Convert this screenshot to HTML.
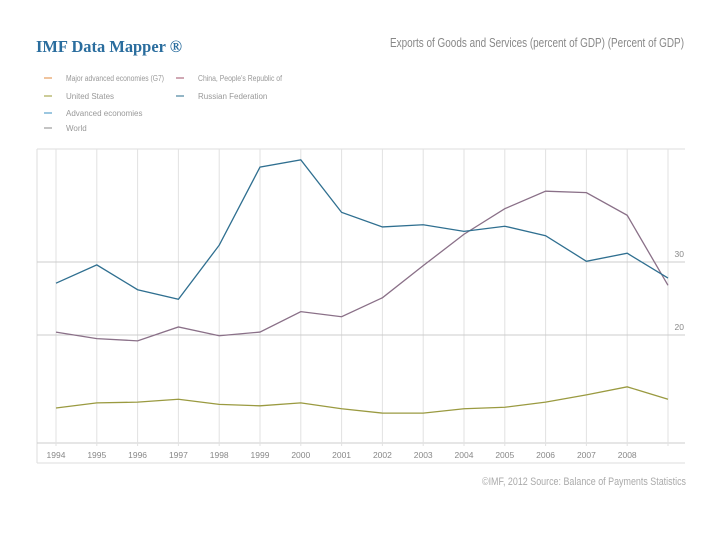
<!DOCTYPE html>
<html><head><meta charset="utf-8"><style>
body{margin:0;background:#fff;font-family:"Liberation Sans",sans-serif;}
#c{position:relative;width:720px;height:540px;overflow:hidden;}
</style></head><body>
<div id="c">
<svg id="s" width="720" height="540" xmlns="http://www.w3.org/2000/svg">
<text x="36" y="52" font-family="Liberation Serif" font-weight="bold" font-size="16.5" fill="#2a6d9e" textLength="146" lengthAdjust="spacingAndGlyphs">IMF Data Mapper ®</text>
<text x="684" y="47" text-anchor="end" font-size="12.5" fill="#888" textLength="294" lengthAdjust="spacingAndGlyphs">Exports of Goods and Services (percent of GDP) (Percent of GDP)</text>
<g font-size="8" fill="#999">
<g><line x1="44" y1="78" x2="52" y2="78" stroke="#e08a3c"/><text x="66" y="81" textLength="98" lengthAdjust="spacingAndGlyphs">Major advanced economies (G7)</text></g>
<g><line x1="176" y1="78" x2="184" y2="78" stroke="#a0506a"/><text x="198" y="81" textLength="84" lengthAdjust="spacingAndGlyphs">China, People's Republic of</text></g>
<g><line x1="44" y1="96" x2="52" y2="96" stroke="#9a9a30"/><text x="66" y="99">United States</text></g>
<g><line x1="176" y1="96" x2="184" y2="96" stroke="#2a6d8e"/><text x="198" y="99">Russian Federation</text></g>
<g><line x1="44" y1="113" x2="52" y2="113" stroke="#3a8fc0"/><text x="66" y="116">Advanced economies</text></g>
<g><line x1="44" y1="128" x2="52" y2="128" stroke="#888"/><text x="66" y="131">World</text></g>
</g>
<line x1="37" y1="149" x2="685" y2="149" stroke="#ddd"/>
<line x1="37" y1="149" x2="37" y2="463" stroke="#ddd"/>
<line x1="37" y1="463" x2="685" y2="463" stroke="#ddd"/>
<line x1="37" y1="443" x2="685" y2="443" stroke="#ccc"/>
<g id="grid"></g><g id="lines"></g><g id="labels" font-size="8.5" fill="#888"></g>
<text x="686" y="485" text-anchor="end" font-size="11" fill="#aaa" textLength="204" lengthAdjust="spacingAndGlyphs">©IMF, 2012 Source: Balance of Payments Statistics</text>
</svg>
</div>
<script>
const years=["1994","1995","1996","1997","1998","1999","2000","2001","2002","2003","2004","2005","2006","2007","2008",""];
const russia=[27.1,29.6,26.2,24.9,32.3,43.0,44.0,36.8,34.8,35.1,34.2,34.9,33.6,30.1,31.2,27.8];
const china=[20.4,19.5,19.2,21.1,19.9,20.4,23.2,22.5,25.1,29.5,33.8,37.3,39.7,39.5,36.4,26.8];
const usa=[10.0,10.7,10.8,11.2,10.5,10.3,10.7,9.9,9.3,9.3,9.9,10.1,10.8,11.8,12.9,11.2];
const yTicks=[20,30];
const NS="http://www.w3.org/2000/svg";
const x=i=>56+i*40.8;
const y=v=>262-(v-30)*7.3;
const grid=document.getElementById('grid'),lines=document.getElementById('lines'),labels=document.getElementById('labels');
years.forEach((yr,i)=>{
 const l=document.createElementNS(NS,'line');
 l.setAttribute('x1',x(i));l.setAttribute('x2',x(i));l.setAttribute('y1',149);l.setAttribute('y2',446);
 l.setAttribute('stroke','#e2e2e2');
 
 
 grid.appendChild(l);
 if(yr){const t=document.createElementNS(NS,'text');
 t.setAttribute('x',x(i));t.setAttribute('y',458);t.setAttribute('text-anchor','middle');t.textContent=yr;
 
 
 labels.appendChild(t);}
});
yTicks.forEach(v=>{
 const l=document.createElementNS(NS,'line');
 l.setAttribute('x1',37);l.setAttribute('x2',685);l.setAttribute('y1',y(v));l.setAttribute('y2',y(v));
 l.setAttribute('stroke','#ccc');
 
 
 grid.appendChild(l);
 const t=document.createElementNS(NS,'text');
 t.setAttribute('x',684);t.setAttribute('y',y(v)-5);t.setAttribute('text-anchor','end');t.textContent=v;
 
 
 labels.appendChild(t);
});
function draw(data,color,name){
 const p=document.createElementNS(NS,'polyline');
 p.setAttribute('points',data.map((v,i)=>x(i)+','+y(v)).join(' '));
 p.setAttribute('fill','none');p.setAttribute('stroke',color);p.setAttribute('stroke-width','1.3');
 
 
 lines.appendChild(p);
}
draw(usa,'#9a9a40','line-united-states');
draw(china,'#8a7088','line-china');
draw(russia,'#2f6f90','line-russia');
</script>
</body></html>
